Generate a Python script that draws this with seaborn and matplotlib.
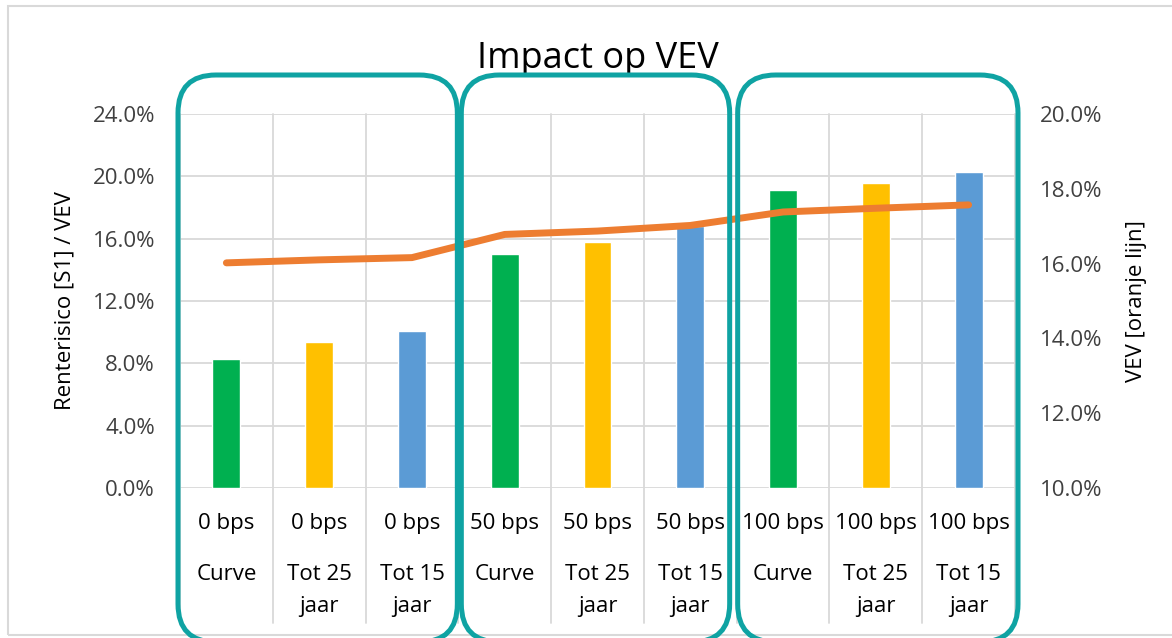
import matplotlib
matplotlib.use('Agg')
import matplotlib.pyplot as plt
import seaborn as sns
import pandas as pd
from matplotlib.patches import FancyBboxPatch, Rectangle
from matplotlib.transforms import IdentityTransform, blended_transform_factory
from matplotlib.ticker import FuncFormatter

# --- data ---
bps_labels = ['0 bps', '0 bps', '0 bps', '50 bps', '50 bps', '50 bps', '100 bps', '100 bps', '100 bps']
method_labels = ['Curve', 'Tot 25', 'Tot 15', 'Curve', 'Tot 25', 'Tot 15', 'Curve', 'Tot 25', 'Tot 15']
method_line3 = ['', 'jaar', 'jaar', '', 'jaar', 'jaar', '', 'jaar', 'jaar']
renterisico = [8.25, 9.35, 10.05, 15.0, 15.8, 16.8, 19.15, 19.6, 20.3]   # left axis, %
vev = [16.02, 16.1, 16.16, 16.78, 16.87, 17.02, 17.38, 17.48, 17.57]      # right axis, %

bar_colors = ['#00B050', '#FFC000', '#5B9BD5'] * 3
line_color = '#ED7D31'
box_color = '#0FA3A3'
grid_color = '#D9D9D9'
text_color = '#404040'

sns.set_style('white')
plt.rcParams['font.family'] = ['Open Sans', 'DejaVu Sans']

df = pd.DataFrame({
    'cat': [f'{b} {m} {j}'.strip() for b, m, j in zip(bps_labels, method_labels, method_line3)],
    'risk': renterisico,
    'vev': vev,
})

W, H = 1172, 638
fig = plt.figure(figsize=(W / 100, H / 100), dpi=100)
ax = fig.add_axes([180 / W, 1 - 488 / H, (1015 - 180) / W, (488 - 114) / H])

# horizontal gridlines (left axis)
for yv in range(0, 25, 4):
    ax.axhline(yv, color=grid_color, lw=1.3, zorder=0)

sns.barplot(data=df, x='cat', y='risk', hue='cat', palette=bar_colors,
            width=0.3, legend=False, ax=ax, saturation=1, zorder=2)
ax.set_ylim(0, 24)
ax.set_xlim(-0.5, len(df) - 0.5)
ax.set_yticks(range(0, 25, 4))
ax.yaxis.set_major_formatter(FuncFormatter(lambda v, p: f'{v:.1f}%'))
ax.tick_params(axis='y', length=0, pad=18, labelsize=16, labelcolor=text_color)
ax.set_xticks([])
ax.set_xlabel('')
ax.set_ylabel('Renterisico [S1] / VEV', fontsize=16, color='black', labelpad=12)
for s in ax.spines.values():
    s.set_visible(False)

# vertical category gridlines extending into the label area
trans = blended_transform_factory(ax.transData, ax.transAxes)
for xb in [i - 0.5 for i in range(len(df) + 1)]:
    ax.plot([xb, xb], [1, -0.36], transform=trans, color=grid_color, lw=1.3,
            clip_on=False, zorder=0)

# category labels
for i in range(len(df)):
    ax.text(i, -0.094, bps_labels[i], transform=trans, ha='center', va='center',
            fontsize=16, color='black')
    ax.text(i, -0.23, method_labels[i], transform=trans, ha='center', va='center',
            fontsize=16, color='black')
    ax.text(i, -0.318, method_line3[i], transform=trans, ha='center', va='center',
            fontsize=16, color='black')

# VEV line on right axis
ax2 = ax.twinx()
sns.lineplot(x=list(range(len(df))), y=df['vev'], ax=ax2, color=line_color,
             lw=5, solid_capstyle='round', zorder=3)
ax2.set_ylim(10, 20)
ax2.set_yticks(range(10, 21, 2))
ax2.yaxis.set_major_formatter(FuncFormatter(lambda v, p: f'{v:.1f}%'))
ax2.tick_params(axis='y', length=0, pad=18, labelsize=16, labelcolor=text_color)
ax2.set_ylabel('VEV [oranje lijn]', fontsize=16, color='black', labelpad=17)
for s in ax2.spines.values():
    s.set_visible(False)
ax2.set_xlim(-0.5, len(df) - 0.5)

ax.set_title('Impact op VEV', fontsize=26, color='black', pad=33)

# chart area border
fig.add_artist(Rectangle((8, 3), W, H - 9, transform=IdentityTransform(),
                         fill=False, edgecolor=grid_color, lw=1.5))

# rounded highlight boxes around each bps group
def px(xd):
    return ax.transData.transform((xd, 0))[0]

pads = [(-2, -1), (3, -7), (1, 3)]
for g, (pl, pr) in enumerate(pads):
    x0 = px(g * 3 - 0.5) + pl
    x1 = px(g * 3 + 2.5) + pr
    fig.add_artist(FancyBboxPatch((x0, -4), x1 - x0, H - 75 + 4,
                                  boxstyle='round,pad=0,rounding_size=38',
                                  transform=IdentityTransform(), fill=False,
                                  edgecolor=box_color, lw=3.6, zorder=10))

plt.savefig('out.png', dpi=100)
plt.close()
